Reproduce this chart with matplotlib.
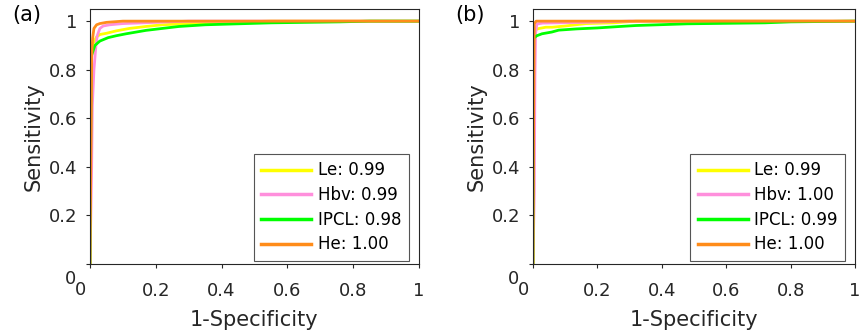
import matplotlib
matplotlib.use("Agg")
import matplotlib.pyplot as plt

# ROC curves (false positive rate, true positive rate)
names = ["Le", "Hbv", "IPCL", "He"]
colors = ["#ffff00", "#ff8fdc", "#00ff00", "#ff8c1a"]

auc_a = ["0.99", "0.99", "0.98", "1.00"]
fpr_a = [
    [0, 0.003, 0.005, 0.01, 0.02, 0.03, 0.05, 0.08, 0.12, 0.17, 0.22, 0.3, 0.4, 0.55, 1.0],
    [0, 0.005, 0.007, 0.012, 0.018, 0.022, 0.03, 0.04, 0.06, 0.1, 0.2, 0.3, 1.0],
    [0, 0.003, 0.005, 0.01, 0.015, 0.03, 0.055, 0.08, 0.11, 0.17, 0.22, 0.27, 0.35, 0.45, 0.55, 0.76, 0.85, 1.0],
    [0, 0.003, 0.005, 0.008, 0.012, 0.02, 0.03, 0.05, 0.1, 1.0],
]
tpr_a = [
    [0, 0.75, 0.88, 0.91, 0.935, 0.945, 0.95, 0.96, 0.97, 0.978, 0.985, 0.99, 0.995, 1.0, 1.0],
    [0, 0.4, 0.65, 0.8, 0.9, 0.94, 0.97, 0.98, 0.985, 0.99, 0.995, 1.0, 1.0],
    [0, 0.7, 0.86, 0.88, 0.9, 0.918, 0.932, 0.94, 0.948, 0.962, 0.97, 0.978, 0.985, 0.989, 0.993, 0.997, 1.0, 1.0],
    [0, 0.5, 0.85, 0.93, 0.97, 0.985, 0.99, 0.995, 1.0, 1.0],
]

auc_b = ["0.99", "1.00", "0.99", "1.00"]
fpr_b = [
    [0, 0.004, 0.006, 0.02, 0.04, 0.06, 0.1, 0.165, 0.25, 0.32, 1.0],
    [0, 0.004, 0.006, 0.008, 0.012, 0.03, 0.2, 0.3, 1.0],
    [0, 0.002, 0.012, 0.028, 0.058, 0.08, 0.135, 0.2, 0.27, 0.32, 0.48, 0.72, 0.8, 1.0],
    [0, 0.002, 0.004, 0.01, 1.0],
]
tpr_b = [
    [0, 0.9, 0.965, 0.97, 0.975, 0.975, 0.98, 0.99, 0.993, 1.0, 1.0],
    [0, 0.3, 0.77, 0.95, 0.988, 0.992, 0.996, 1.0, 1.0],
    [0, 0.93, 0.94, 0.948, 0.955, 0.963, 0.968, 0.972, 0.978, 0.982, 0.989, 0.993, 0.997, 1.0],
    [0, 0.6, 0.99, 1.0, 1.0],
]

ticks = [0, 0.2, 0.4, 0.6, 0.8, 1.0]
tick_labels = ["", "0.2", "0.4", "0.6", "0.8", "1"]
text_color = "#262626"

fig = plt.figure(figsize=(8.61, 3.35), dpi=100)
ax_a = fig.add_axes([90 / 861, 71 / 335, 329 / 861, 255 / 335])
ax_b = fig.add_axes([533 / 861, 71 / 335, 322 / 861, 255 / 335])


def draw_panel(ax, fprs, tprs, aucs, tag, tag_x):
    for fpr, tpr, name, auc, col in zip(fprs, tprs, names, aucs, colors):
        ax.plot(fpr, tpr, color=col, lw=2.0, label=f"{name}: {auc}")
    ax.set_xlim(0, 1)
    ax.set_ylim(0, 1.05)
    ax.set_xticks(ticks)
    ax.set_yticks(ticks)
    ax.set_xticklabels(tick_labels)
    ax.set_yticklabels(tick_labels)
    ax.tick_params(direction="out", length=3, width=0.8, labelsize=13,
                   colors=text_color)
    ax.tick_params(axis="x", pad=10)
    ax.tick_params(axis="y", pad=6)
    for sp in ax.spines.values():
        sp.set_color(text_color)
        sp.set_linewidth(0.8)
    # the "0" labels sit offset from the origin in the reference
    ax.annotate("0", xy=(0, 0), xycoords="axes fraction", xytext=(-13.7, -10.8),
                textcoords="offset points", ha="center", va="center",
                fontsize=13, color=text_color)
    ax.annotate("0", xy=(0, 0), xycoords="axes fraction", xytext=(-6.5, -18.7),
                textcoords="offset points", ha="center", va="center",
                fontsize=13, color=text_color)
    ax.set_xlabel("1-Specificity", fontsize=15, color=text_color, labelpad=7)
    ax.set_ylabel("Sensitivity", fontsize=15, color=text_color, labelpad=4)
    leg = ax.legend(loc="lower right", fontsize=12, handlelength=3.0,
                    fancybox=False, edgecolor="#555555", framealpha=1,
                    borderpad=0.45, labelspacing=0.4, handletextpad=0.4,
                    borderaxespad=0, bbox_to_anchor=(0.97, 0.012))
    leg.get_frame().set_linewidth(0.8)
    for line in leg.get_lines():
        line.set_linewidth(2.5)
    fig.text(tag_x, 0.985, tag, fontsize=15, color="black", va="top", ha="left")


draw_panel(ax_a, fpr_a, tpr_a, auc_a, "(a)", 12 / 861)
draw_panel(ax_b, fpr_b, tpr_b, auc_b, "(b)", 455 / 861)

fig.savefig("out.png", dpi=100)
